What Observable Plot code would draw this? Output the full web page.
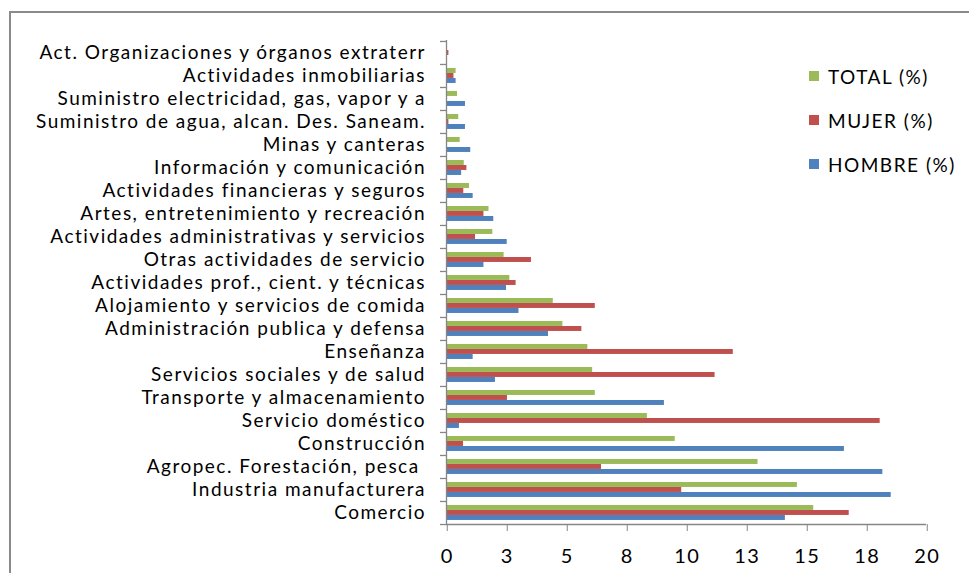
<!DOCTYPE html>
<html>
<head>
<meta charset="utf-8">
<script src="https://cdn.jsdelivr.net/npm/d3@7"></script>
<script src="https://cdn.jsdelivr.net/npm/@observablehq/plot@0.6"></script>
<style>
  html, body { margin: 0; padding: 0; background: #fff; overflow: hidden; }
  #wrap { position: relative; width: 969px; height: 573px; font-family: Lato, "Open Sans", sans-serif; }
  #frame { position: absolute; left: 9px; top: 11px; width: 1000px; height: 600px; border: 2px solid #8a8a8a; box-sizing: border-box; pointer-events: none; }
  #legend { position: absolute; left: 809px; top: 54px; }
  .item { display: flex; align-items: center; height: 44px; font-size: 19px; letter-spacing: 1.5px; color: #000; }
  .sw { width: 10px; height: 10px; margin-right: 9px; }
  svg text { letter-spacing: 1.5px; }
</style>
</head>
<body>
<div id="wrap">
  <div id="chart"></div>
  <div id="frame"></div>
  <div id="legend"></div>
</div>
<script>
const categories = [
  "Act. Organizaciones y órganos extraterr",
  "Actividades inmobiliarias",
  "Suministro electricidad, gas, vapor y a",
  "Suministro de agua, alcan. Des. Saneam.",
  "Minas y canteras",
  "Información y comunicación",
  "Actividades financieras y seguros",
  "Artes, entretenimiento y recreación",
  "Actividades administrativas y servicios",
  "Otras actividades de servicio",
  "Actividades prof., cient. y técnicas",
  "Alojamiento y servicios de comida",
  "Administración publica y defensa",
  "Enseñanza",
  "Servicios sociales y de salud",
  "Transporte y almacenamiento",
  "Servicio doméstico",
  "Construcción",
  "Agropec. Forestación, pesca\u00a0",
  "Industria manufacturera",
  "Comercio"
];
const total  = [0, 0.40, 0.46, 0.51, 0.57, 0.74, 0.96, 1.77, 1.93, 2.40, 2.64, 4.45, 4.85, 5.89, 6.09, 6.20, 8.37, 9.53, 12.98, 14.62, 15.30];
const mujer  = [0.10, 0.31, 0, 0.10, 0, 0.85, 0.72, 1.56, 1.21, 3.54, 2.90, 6.20, 5.64, 11.95, 11.19, 2.54, 18.07, 0.71, 6.46, 9.80, 16.78];
const hombre = [0, 0.40, 0.79, 0.79, 1.01, 0.63, 1.11, 1.97, 2.53, 1.56, 2.50, 3.02, 4.25, 1.11, 2.04, 9.08, 0.54, 16.58, 18.18, 18.53, 14.12];
const xTicks = [0, 2.5, 5, 7.5, 10, 12.5, 15, 17.5, 20];
const seriesNames = ["TOTAL (%)", "MUJER (%)", "HOMBRE (%)"];
const seriesColors = ["#9BBB59", "#C0504D", "#4F81BD"];

const W = 969, H = 573;
const mTop = 40, mBottom = 49, mLeft = 446, mRight = 43;
const bw = (H - mTop - mBottom) / categories.length;

const rows = categories.map((c, i) => ({c, t: total[i], m: mujer[i], h: hombre[i]}));
const axisColor = "#868686";

const chart = Plot.plot({
  width: W,
  height: H,
  marginTop: mTop,
  marginBottom: mBottom,
  marginLeft: mLeft,
  marginRight: mRight,
  style: {fontFamily: "Lato, 'Open Sans', sans-serif", background: "#fff", color: "#000"},
  x: {domain: [0, 20]},
  y: {domain: categories, padding: 0},
  marks: [
    Plot.barX(rows, {y: "c", x: "t", fill: seriesColors[0], insetTop: 4, insetBottom: bw - 9}),
    Plot.barX(rows, {y: "c", x: "m", fill: seriesColors[1], insetTop: 9, insetBottom: bw - 14}),
    Plot.barX(rows, {y: "c", x: "h", fill: seriesColors[2], insetTop: 14, insetBottom: bw - 19}),
    // y axis line
    Plot.ruleX([0], {stroke: axisColor, strokeWidth: 1.3}),
    // x axis line
    Plot.ruleY([categories[categories.length - 1]], {dy: bw / 2, stroke: axisColor, strokeWidth: 1.3}),
    // category boundary ticks
    Plot.ruleY(categories, {y: d => d, dy: -bw / 2, x1: 0, x2: 0, insetLeft: -6, stroke: axisColor, strokeWidth: 1.3}),
    Plot.ruleY([categories[categories.length - 1]], {dy: bw / 2, x1: 0, x2: 0, insetLeft: -6, stroke: axisColor, strokeWidth: 1.3}),
    Plot.axisY({tickSize: 0, tickPadding: 20.5, fontSize: 19, label: null, fill: "#000"}),
    Plot.axisX({ticks: xTicks, tickFormat: d => String(Math.round(d)), tickSize: 7, tickPadding: 17, fontSize: 20, dx: 0.75, label: null, stroke: axisColor, fill: "#000"})
  ]
});
document.getElementById("chart").appendChild(chart);

const legend = document.getElementById("legend");
seriesNames.forEach((name, i) => {
  const item = document.createElement("div");
  item.className = "item";
  const sw = document.createElement("span");
  sw.className = "sw";
  sw.style.background = seriesColors[i];
  const tx = document.createElement("span");
  tx.textContent = name;
  item.appendChild(sw);
  item.appendChild(tx);
  legend.appendChild(item);
});
</script>
</body>
</html>
